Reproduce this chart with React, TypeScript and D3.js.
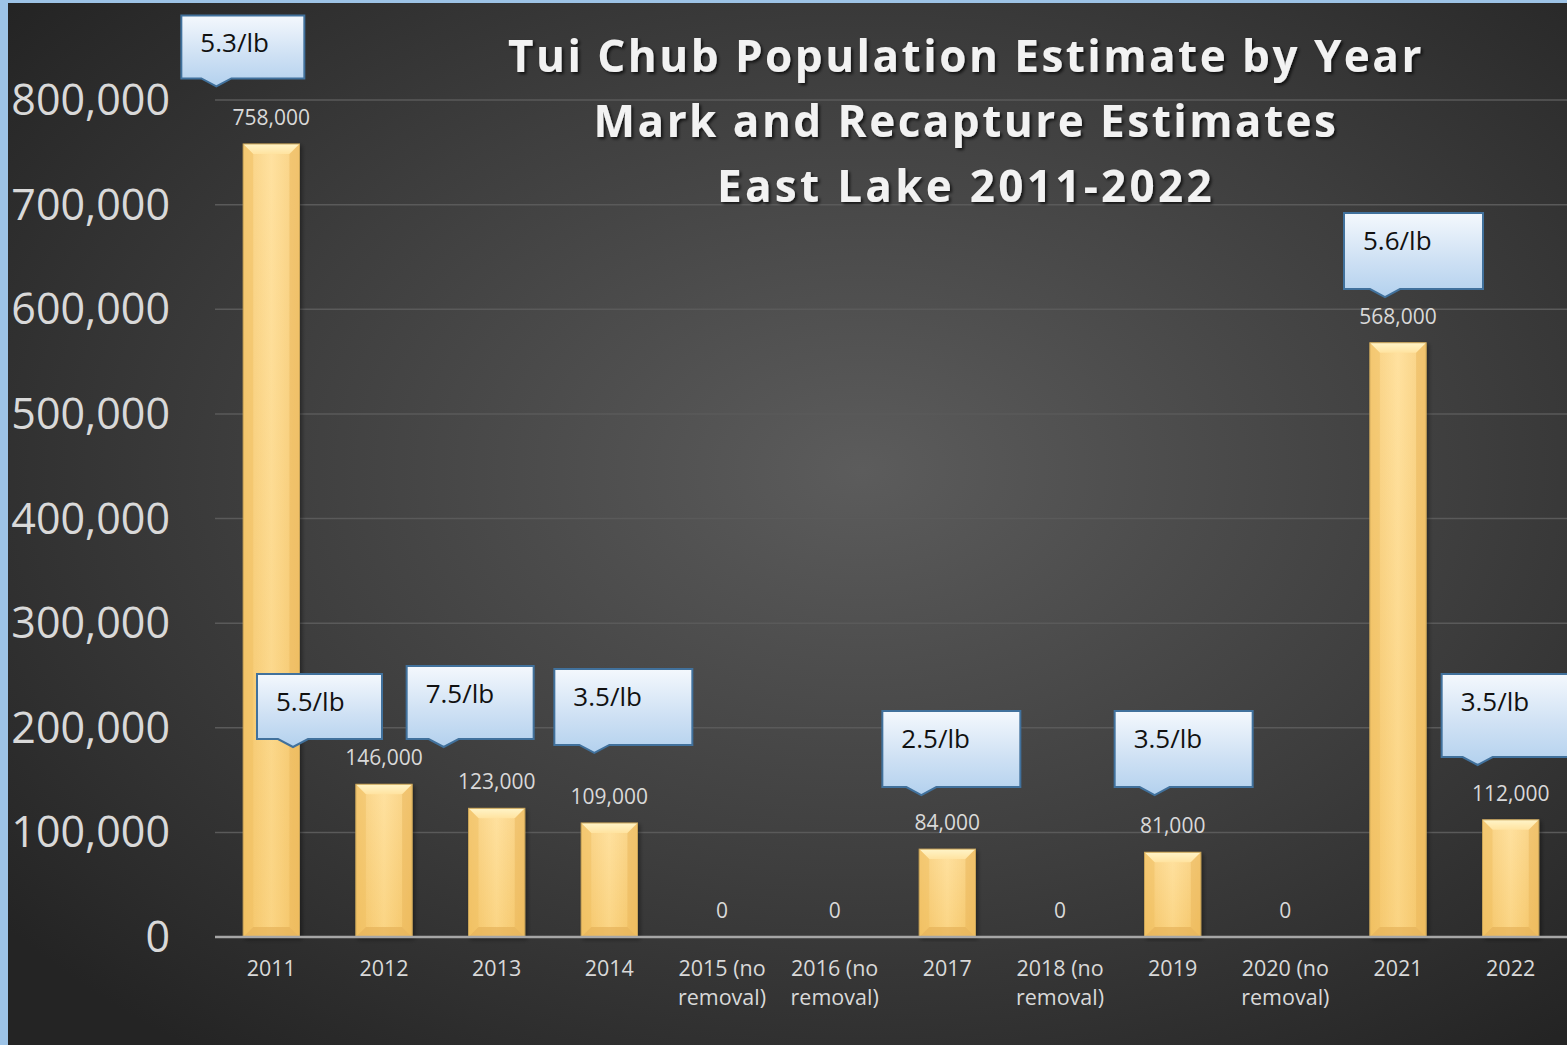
import React from "react";
import * as d3 from "d3";

const categories: string[] = [
  "2011", "2012", "2013", "2014", "2015 (no removal)", "2016 (no removal)",
  "2017", "2018 (no removal)", "2019", "2020 (no removal)", "2021", "2022",
];
const categoryLines: string[][] = [
  ["2011"], ["2012"], ["2013"], ["2014"], ["2015 (no", "removal)"], ["2016 (no", "removal)"],
  ["2017"], ["2018 (no", "removal)"], ["2019"], ["2020 (no", "removal)"], ["2021"], ["2022"],
];
const populations: number[] = [758000, 146000, 123000, 109000, 0, 0, 84000, 0, 81000, 0, 568000, 112000];
const yTicks: number[] = [0, 100000, 200000, 300000, 400000, 500000, 600000, 700000, 800000];
const titleLines: string[] = [
  "Tui Chub Population Estimate by Year",
  "Mark and Recapture Estimates",
  "East Lake 2011-2022",
];

// callouts: fish per pound annotations
const calloutCategories: string[] = ["2011", "2012", "2013", "2014", "2017", "2019", "2021", "2022"];
const calloutLabels: string[] = ["5.3/lb", "5.5/lb", "7.5/lb", "3.5/lb", "2.5/lb", "3.5/lb", "5.6/lb", "3.5/lb"];
const calloutTipValues: number[] = [813000, 181600, 181600, 175900, 135700, 135700, 611700, 164400];

// layout (px) for callouts: tip offset from band centre, box offset from tip, box size
const calloutLayout = [
  { tipDx: -55, boxDx: -35, w: 123, h: 63 },
  { tipDx: -91, boxDx: -36, w: 125, h: 65 },
  { tipDx: -53, boxDx: -37, w: 127, h: 73 },
  { tipDx: -15, boxDx: -40, w: 138, h: 76 },
  { tipDx: -26, boxDx: -39, w: 138, h: 76 },
  { tipDx: -18, boxDx: -40, w: 138, h: 76 },
  { tipDx: -13, boxDx: -41, w: 139, h: 76 },
  { tipDx: -33, boxDx: -36, w: 140, h: 83 },
];

const W = 1567;
const H = 1045;
const FONT = "'Open Sans', 'Noto Sans', sans-serif";

export default function App() {
  const x = d3.scaleBand<string>().domain(categories).range([215, 1567]).paddingInner(0.5).paddingOuter(0.25);
  const y = d3.scaleLinear().domain([0, 800000]).range([937, 100]);
  const fmt = d3.format(",");
  const bw = x.bandwidth();
  const bev = 10;

  return (
    <div style={{ width: W, height: H }}>
      <style>{`body{margin:0;}`}</style>
      <svg width={W} height={H} style={{ display: "block" }}>
        <defs>
          <radialGradient id="bg" cx="0.55" cy="0.45" r="0.7">
            <stop offset="0" stopColor="#5c5c5c" />
            <stop offset="0.55" stopColor="#3e3e3e" />
            <stop offset="1" stopColor="#242424" />
          </radialGradient>
          <linearGradient id="barH" x1="0" x2="1" y1="0" y2="0">
            <stop offset="0" stopColor="#f6c76a" />
            <stop offset="0.5" stopColor="#ffdc8f" />
            <stop offset="1" stopColor="#f6c76a" />
          </linearGradient>
          <linearGradient id="barV" x1="0" x2="0" y1="0" y2="1">
            <stop offset="0" stopColor="#ffffff" stopOpacity="0.15" />
            <stop offset="1" stopColor="#e0a840" stopOpacity="0.15" />
          </linearGradient>
          <linearGradient id="bevTop" x1="0" x2="0" y1="0" y2="1">
            <stop offset="0" stopColor="#fff4c8" />
            <stop offset="1" stopColor="#ffe3a0" />
          </linearGradient>
          <linearGradient id="callout" x1="0" x2="0" y1="0" y2="1">
            <stop offset="0" stopColor="#f4f8fd" />
            <stop offset="0.55" stopColor="#cfe1f4" />
            <stop offset="1" stopColor="#b3d1ee" />
          </linearGradient>
          <filter id="tshadow" x="-5%" y="-20%" width="110%" height="150%">
            <feDropShadow dx="2" dy="2" stdDeviation="1.5" floodColor="#000" floodOpacity="0.7" />
          </filter>
          <filter id="bshadow" x="-20%" y="-5%" width="140%" height="110%">
            <feDropShadow dx="2" dy="2" stdDeviation="2" floodColor="#000" floodOpacity="0.4" />
          </filter>
        </defs>

        <rect x={0} y={0} width={W} height={H} fill="url(#bg)" />
        <rect x={0} y={0} width={8} height={H} fill="#9dc3e6" />
        <rect x={0} y={0} width={W} height={3} fill="#9dc3e6" />

        {/* gridlines */}
        {yTicks.filter((t) => t > 0).map((t) => (
          <line key={t} x1={215} x2={1567} y1={y(t)} y2={y(t)} stroke="#5a5a5a" strokeWidth={1.5} />
        ))}

        {/* y tick labels */}
        {yTicks.map((t) => (
          <text key={t} x={170} y={y(t) + 15} textAnchor="end" fill="#d9d9d9" fontFamily={FONT} fontSize={43}>
            {fmt(t)}
          </text>
        ))}

        {/* bars */}
        {categories.map((c, i) => {
          const v = populations[i];
          if (v <= 0) return null;
          const x0 = x(c)!;
          const x1 = x0 + bw;
          const y0 = y(v);
          const y1 = y(0);
          return (
            <g key={c} filter="url(#bshadow)">
              <rect x={x0} y={y0} width={bw} height={y1 - y0} fill="url(#barH)" />
              <rect x={x0} y={y0} width={bw} height={y1 - y0} fill="url(#barV)" />
              <polygon points={`${x0},${y0} ${x1},${y0} ${x1 - bev},${y0 + bev} ${x0 + bev},${y0 + bev}`} fill="url(#bevTop)" />
              <polygon points={`${x0},${y0} ${x0 + bev},${y0 + bev} ${x0 + bev},${y1 - bev} ${x0},${y1}`} fill="#f0bf62" opacity={0.5} />
              <polygon points={`${x1},${y0} ${x1 - bev},${y0 + bev} ${x1 - bev},${y1 - bev} ${x1},${y1}`} fill="#eab55a" opacity={0.5} />
              <polygon points={`${x0},${y1} ${x0 + bev},${y1 - bev} ${x1 - bev},${y1 - bev} ${x1},${y1}`} fill="#e6b25a" opacity={0.7} />
              <rect x={x0} y={y0} width={bw} height={y1 - y0} fill="none" stroke="#c9a458" strokeWidth={1} />
            </g>
          );
        })}

        {/* axis line */}
        <line x1={215} x2={1567} y1={y(0)} y2={y(0)} stroke="#a6a6a6" strokeWidth={2.5} />

        {/* value labels */}
        {categories.map((c, i) => (
          <text key={c} x={x(c)! + bw / 2} y={y(populations[i]) - 19} textAnchor="middle" fill="#d9d9d9" fontFamily={FONT} fontSize={21}>
            {fmt(populations[i])}
          </text>
        ))}

        {/* category labels */}
        {categories.map((c, i) => (
          <text key={c} x={x(c)! + bw / 2} y={976} textAnchor="middle" fill="#d9d9d9" fontFamily={FONT} fontSize={21.5}>
            {categoryLines[i].map((ln, j) => (
              <tspan key={j} x={x(c)! + bw / 2} dy={j === 0 ? 0 : 29}>{ln}</tspan>
            ))}
          </text>
        ))}

        {/* title */}
        {titleLines.map((t, i) => (
          <text key={t} x={966} y={72 + i * 65} textAnchor="middle" fill="#f2f2f2" fontFamily={FONT} fontWeight={700}
            fontSize={44} letterSpacing={i === 2 ? 3.3 : 2.5} filter="url(#tshadow)">
            {t}
          </text>
        ))}

        {/* callouts */}
        {calloutCategories.map((c, i) => {
          const L = calloutLayout[i];
          const tipX = x(c)! + bw / 2 + L.tipDx;
          const tipY = y(calloutTipValues[i]);
          const bx = tipX + L.boxDx;
          const bBottom = tipY - 8;
          const by = bBottom - L.h;
          const path = `M${bx},${by} H${bx + L.w} V${bBottom} H${tipX + 15} L${tipX},${tipY} L${tipX - 15},${bBottom} H${bx} Z`;
          return (
            <g key={i}>
              <path d={path} fill="url(#callout)" stroke="#41719c" strokeWidth={2} strokeLinejoin="miter" />
              <text x={bx + 19} y={by + 37} fill="#111" fontFamily={FONT} fontSize={26}>{calloutLabels[i]}</text>
            </g>
          );
        })}
      </svg>
    </div>
  );
}
